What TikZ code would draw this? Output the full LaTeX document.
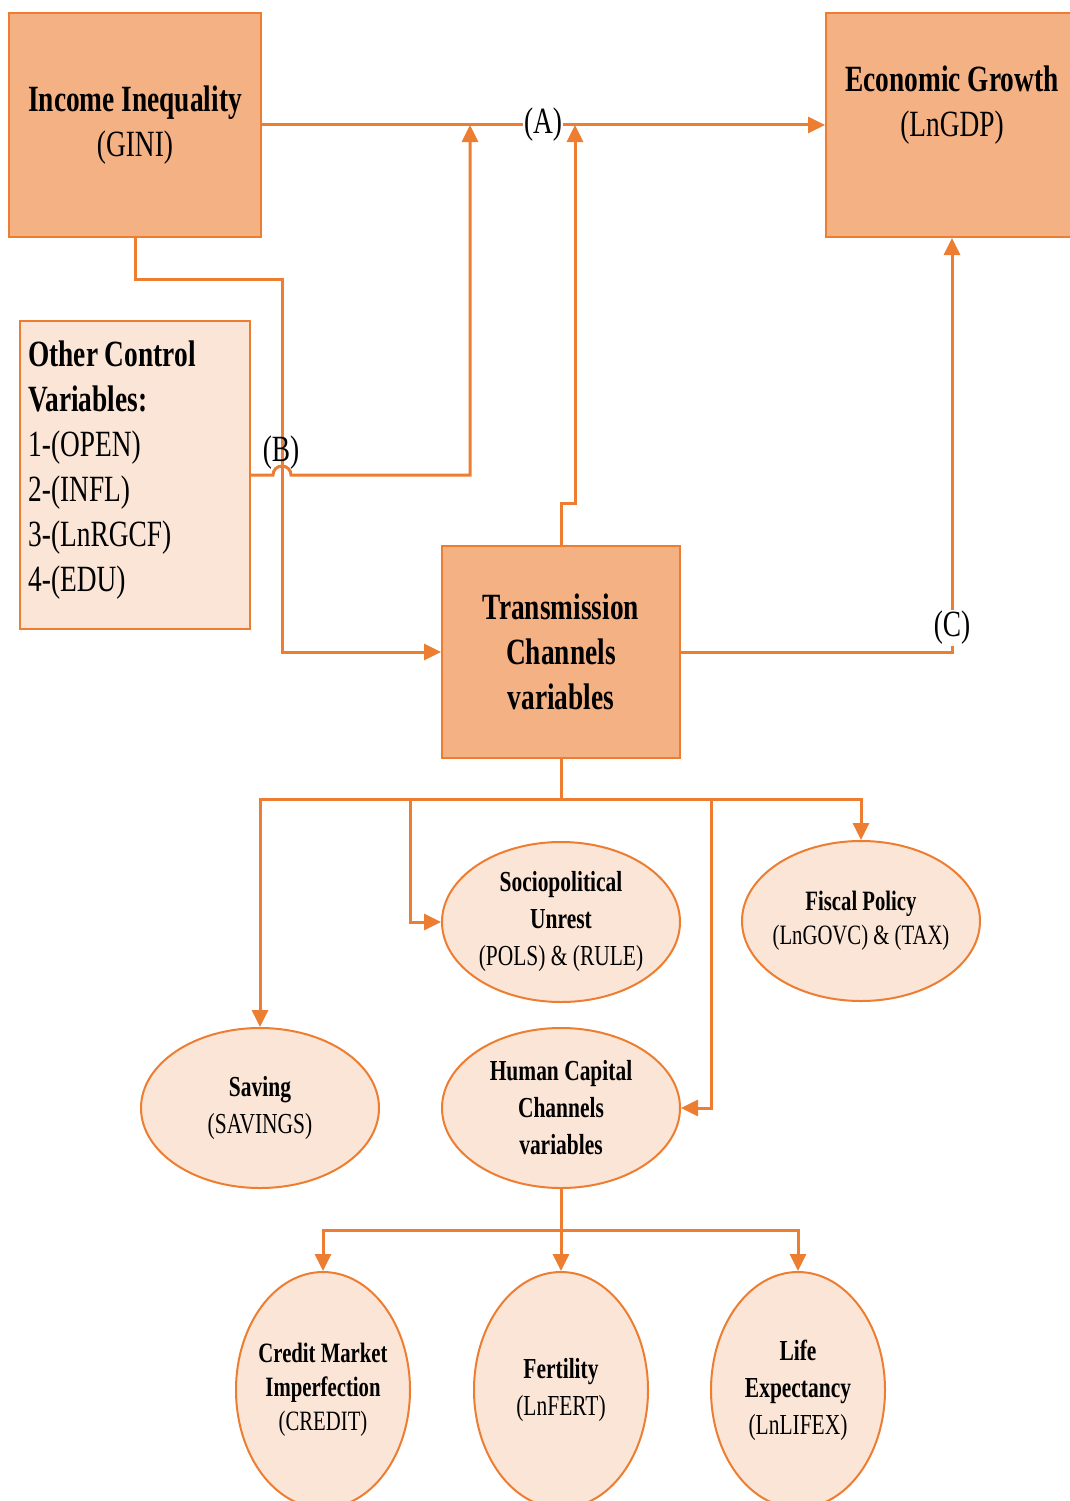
\documentclass[tikz,border=0pt]{standalone}
\usepackage{fontspec}
\setmainfont{Liberation Serif}[FakeStretch=0.74]
\usetikzlibrary{shapes.geometric,arrows.meta}
\definecolor{edgeorange}{HTML}{ED7D31}
\definecolor{darkfill}{HTML}{F4B183}
\definecolor{lightfill}{HTML}{FBE5D6}
\newcommand{\bigtxt}{\fontsize{37}{45}\selectfont}
\newcommand{\smalltxt}{\fontsize{29}{37}\selectfont}
\tikzset{
  mainbox/.style={draw=edgeorange,line width=2pt,fill=darkfill,inner sep=0pt,align=center,font=\bigtxt},
  ctrlbox/.style={draw=edgeorange,line width=2pt,fill=lightfill,inner sep=0pt},
  chan/.style={ellipse,draw=edgeorange,line width=2pt,fill=lightfill,inner sep=-20pt,align=center,font=\smalltxt,minimum width=238pt,minimum height=160pt},
  subchan/.style={chan,minimum width=174pt,minimum height=236pt},
  link/.style={draw=edgeorange,line width=3pt,-{Triangle[length=17pt,width=16pt]}},
  plain/.style={draw=edgeorange,line width=3pt},
  tag/.style={font=\bigtxt,inner sep=1pt}
}
\begin{document}
\begin{tikzpicture}[x=1pt,y=-1pt]
\useasboundingbox (0,0) rectangle (1070,1501);

\node[mainbox,minimum width=252pt,minimum height=224pt] (gini) at (135,125) {\textbf{Income Inequality}\\(GINI)};
\node[mainbox,minimum width=252pt,minimum height=224pt] (lngdp) at (952,125) {};
\node[font=\bigtxt,align=center] (lngdptxt) at (952,105) {\textbf{Economic Growth}\\(LnGDP)};
\node[ctrlbox,minimum width=230pt,minimum height=308pt] (other) at (135,475) {};
\node[font=\bigtxt,align=left,anchor=west,inner sep=0pt] (othertxt) at (28,470) {\textbf{Other Control}\\\textbf{Variables:}\\1-(OPEN)\\2-(INFL)\\3-(LnRGCF)\\4-(EDU)};
\node[mainbox,minimum width=238pt,minimum height=212pt] (trans) at (561,652) {\textbf{Transmission}\\\textbf{Channels}\\\textbf{variables}};

\node[chan] (socio) at (561,922) {\textbf{Sociopolitical}\\\textbf{Unrest}\\(POLS) \& (RULE)};
\node[chan,font=\fontsize{28}{34}\selectfont] (fiscal) at (861,921) {\textbf{Fiscal Policy}\\(LnGOVC) \& (TAX)};
\node[chan] (saving) at (260,1108) {\textbf{Saving}\\(SAVINGS)};
\node[chan] (human) at (561,1108) {\textbf{Human Capital}\\\textbf{Channels}\\\textbf{variables}};
\node[subchan,font=\fontsize{28}{34}\selectfont] (credit) at (323,1390) {\textbf{Credit Market}\\\textbf{Imperfection}\\(CREDIT)};
\node[subchan] (fert) at (561,1390) {\textbf{Fertility}\\(LnFERT)};
\node[subchan] (lifex) at (798,1390) {\textbf{Life}\\\textbf{Expectancy}\\(LnLIFEX)};

\coordinate (joinB) at (470,125);
\coordinate (joinT) at (575,125);
\coordinate (hubT) at (561,799);
\coordinate (hubH) at (561,1230);

\draw[link] (gini.east) -- (lngdp.west);
\node[tag,fill=white] (tagA) at (543,125) {(A)};
\draw[link] (gini.south) |- (282,279) |- (trans.west);
\draw[link] (other.east) -- (273,475) arc (180:360:9) -- (470,475) -- (joinB);
\node[tag] (tagB) at (281,453) {(B)};
\draw[link] (trans.north) |- (575,503) -- (joinT);
\draw[link] (trans.east) -| (lngdp.south);
\node[tag,fill=white] (tagC) at (952,628) {(C)};

\draw[plain] (trans.south) -- (hubT);
\draw[link] (hubT) -| (saving.north);
\draw[link] (hubT) -| (fiscal.north);
\draw[link] (410,799) |- (socio.west);
\draw[link] (711,799) |- (human.east);

\draw[plain] (human.south) -- (hubH);
\draw[link] (hubH) -| (credit.north);
\draw[link] (hubH) -- (fert.north);
\draw[link] (hubH) -| (lifex.north);
\end{tikzpicture}
\end{document}
